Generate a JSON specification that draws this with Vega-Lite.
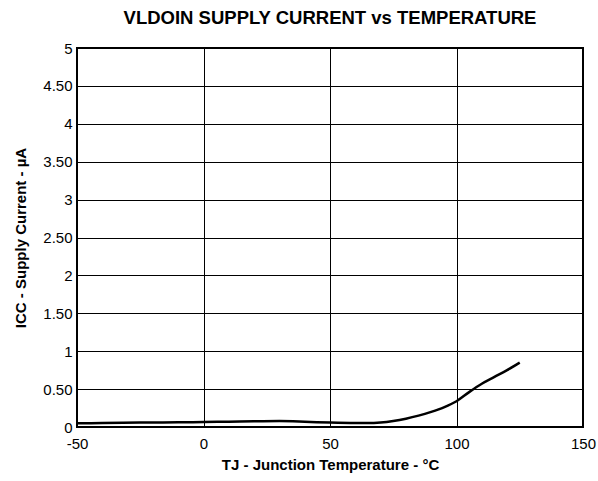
{
  "$schema": "https://vega.github.io/schema/vega-lite/v6.json",
  "width": 506,
  "height": 379,
  "autosize": "none",
  "padding": {"left": 77, "top": 48, "right": 15, "bottom": 54},
  "background": "white",
  "title": {
    "text": "VLDOIN SUPPLY CURRENT vs TEMPERATURE",
    "font": "Liberation Sans",
    "fontSize": 18.5,
    "fontWeight": "bold",
    "color": "black",
    "offset": 14,
    "anchor": "middle"
  },
  "config": {
    "view": {"stroke": "black", "strokeWidth": 2},
    "axis": {
      "labelFont": "Liberation Sans",
      "titleFont": "Liberation Sans",
      "labelFontSize": 15,
      "titleFontSize": 15,
      "titleFontWeight": "bold",
      "labelColor": "black",
      "titleColor": "black",
      "gridColor": "black",
      "gridOpacity": 1,
      "gridWidth": 1,
      "domain": false,
      "ticks": false,
      "labelFlush": false
    }
  },
  "data": {
    "values": [
      {"t": -50, "i": 0.05},
      {"t": -40, "i": 0.052},
      {"t": -25, "i": 0.058},
      {"t": -10, "i": 0.062},
      {"t": 0, "i": 0.065},
      {"t": 10, "i": 0.07},
      {"t": 20, "i": 0.075},
      {"t": 30, "i": 0.078},
      {"t": 40, "i": 0.07},
      {"t": 50, "i": 0.058},
      {"t": 60, "i": 0.052},
      {"t": 65, "i": 0.052},
      {"t": 70, "i": 0.06},
      {"t": 75, "i": 0.08},
      {"t": 80, "i": 0.11},
      {"t": 85, "i": 0.15},
      {"t": 90, "i": 0.2},
      {"t": 95, "i": 0.26},
      {"t": 100, "i": 0.34},
      {"t": 105, "i": 0.46},
      {"t": 110, "i": 0.57},
      {"t": 115, "i": 0.66},
      {"t": 120, "i": 0.75},
      {"t": 125, "i": 0.85}
    ]
  },
  "mark": {"type": "line", "color": "black", "strokeWidth": 2.5, "interpolate": "monotone"},
  "encoding": {
    "x": {
      "field": "t",
      "type": "quantitative",
      "scale": {"domain": [-50, 150], "nice": false},
      "axis": {
        "values": [-50, 0, 50, 100, 150],
        "labelExpr": "datum.value + ''",
        "title": "TJ - Junction Temperature - °C",
        "labelPadding": 9,
        "titlePadding": 6
      }
    },
    "y": {
      "field": "i",
      "type": "quantitative",
      "scale": {"domain": [0, 5], "nice": false},
      "axis": {
        "values": [0, 0.5, 1, 1.5, 2, 2.5, 3, 3.5, 4, 4.5, 5],
        "labelExpr": "datum.value % 1 == 0 ? format(datum.value, 'd') : format(datum.value, '.2f')",
        "title": "ICC - Supply Current - µA",
        "labelPadding": 5,
        "titlePadding": 14
      }
    }
  }
}
